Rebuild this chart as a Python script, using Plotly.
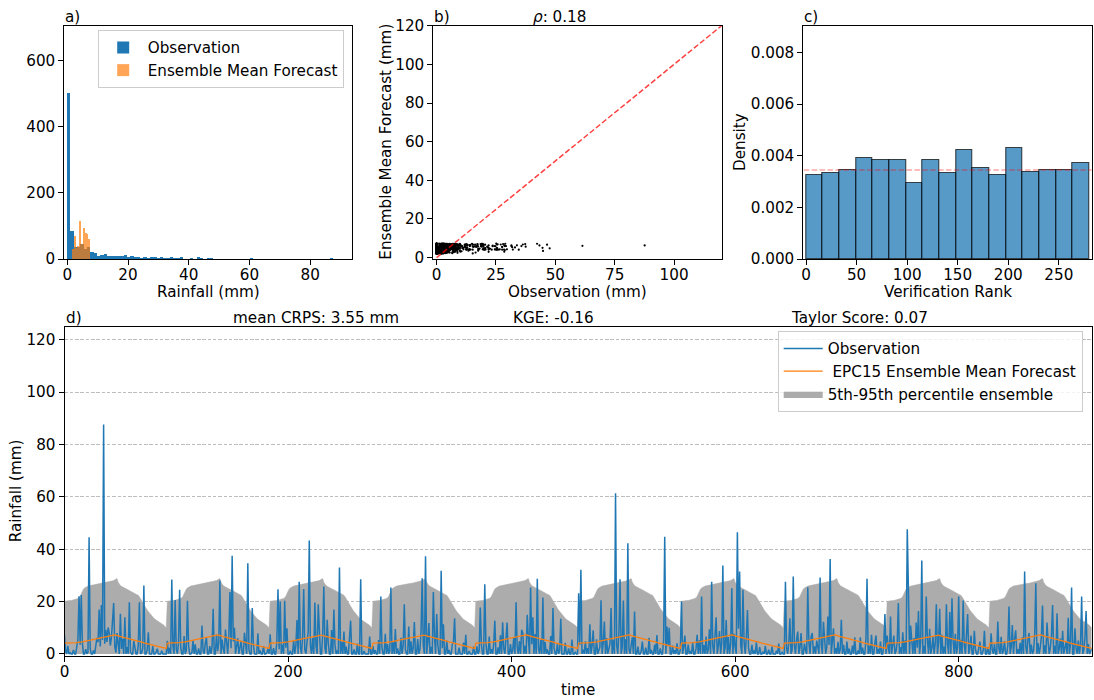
import numpy as np
import plotly.graph_objects as go

# ---------------- data ----------------
# Observed daily rainfall (mm), one list per 92-day season
obs_season_01 = [7, 1.2, 0, 3.1, 0, 0.4, 0, 0, 1.5, 0,
                 0, 2.4, 5.6, 22, 3.5, 22.5, 4.2, 0, 0, 1.8,
                 0, 0.6, 44.6, 2.1, 0, 0, 1.3, 0, 3.4, 6.1,
                 4.5, 17, 2.8, 18.7, 5.3, 87.6, 3.9, 9.2, 4.6, 10.1,
                 8, 3.2, 6.3, 12.4, 19.4, 2.7, 0.5, 8, 3.6, 0,
                 15.3, 1.9, 5.8, 0, 14, 0, 2.6, 0, 19.7, 0.8,
                 0, 0, 5, 1.4, 0, 0, 3.3, 19.7, 0, 0.3,
                 2.2, 26.1, 0, 0, 1.6, 8.3, 0, 0, 0, 3,
                 0, 0, 0.7, 2, 0, 0, 0, 1.2, 0, 0,
                 0, 0]
obs_season_02 = [5, 0, 2.3, 0, 28.4, 3.1, 0, 20.6, 1.7, 0,
                 4.4, 24.5, 2.5, 0, 0, 6.8, 0, 1.4, 20.3, 3.2,
                 0, 0, 0.5, 5.1, 0, 3.7, 0, 0, 2.1, 0,
                 0, 10.8, 1.2, 0, 4.3, 6.2, 0, 0, 3, 0,
                 2.6, 17.2, 0, 0, 7.4, 1.1, 4.2, 28, 0, 5.5,
                 2, 0, 9.3, 3.6, 0, 6.7, 23.6, 2.2, 37.5, 4.8,
                 10, 0, 3.4, 6, 0, 1.9, 5, 0, 0, 8.1,
                 2.5, 0, 34.6, 1.6, 0, 0, 17.5, 3.3, 0, 0,
                 0, 7.9, 0, 1.3, 0, 0, 3, 0, 0, 0.4,
                 2, 0]
obs_season_03 = [7.5, 0, 0, 2.2, 0, 0, 4.9, 24.7, 1.8, 20,
                 0, 3.6, 0, 20.3, 2.4, 9.8, 0, 0, 1.2, 0,
                 0, 5.2, 0, 3.1, 12.9, 0, 27.6, 2.7, 0, 6.4,
                 24.8, 1.5, 0, 4.7, 8.2, 43.3, 3.3, 0, 6.1, 0,
                 19.6, 2.9, 0, 19, 5.4, 0, 0, 7.8, 25.7, 2.3,
                 0, 13, 4.1, 0, 0, 9.1, 0, 17, 3.5, 0,
                 1.3, 0, 33, 0, 4.6, 0, 8.5, 0, 2.8, 0,
                 0, 5.9, 12.7, 0, 0, 1.7, 0, 0, 3.9, 0,
                 0, 28.5, 0, 0, 1.1, 0, 0, 0, 0, 6.6,
                 0, 0]
obs_season_04 = [3, 0, 1.4, 0, 0, 5.3, 0, 21.9, 2.6, 0,
                 0, 7.7, 0, 3.8, 0, 1.2, 25.4, 0, 4.4, 0,
                 9.5, 0, 2.1, 0, 0, 6.2, 0, 3.3, 19, 1.6,
                 0, 0, 10.5, 0, 4.8, 0, 2.4, 12.2, 0, 0,
                 5.7, 0, 1.9, 8.6, 28.9, 3.1, 0, 37.3, 0, 4.2,
                 11.8, 0, 2.7, 0, 23.6, 6.9, 0, 15.2, 3.5, 0,
                 0, 31.8, 2.2, 11.3, 0, 0, 5.1, 0, 1.5, 0,
                 0, 3.7, 4.7, 13.6, 0, 0, 0, 2.4, 0, 0,
                 0, 4.3, 0, 7.3, 0, 0, 1.1, 0, 0, 0,
                 2.8, 0]
obs_season_05 = [0, 2.9, 0, 1.3, 17.7, 3.4, 0, 0, 26.6, 4.1,
                 0, 0, 6.6, 0, 1.8, 0, 3.9, 12.7, 0, 0,
                 2.5, 0, 7.1, 0, 12.1, 2, 0, 5.3, 12, 0,
                 0, 3.8, 0, 1.4, 6.4, 0, 19.7, 2.6, 0, 4.9,
                 0, 9.2, 8, 0, 3.1, 0, 14.9, 5.8, 0, 25.4,
                 3.7, 14, 0, 7.6, 0, 28.7, 2.2, 0, 5.4, 0,
                 21.5, 0, 4.5, 0, 1.7, 0, 0, 6.8, 0, 17.5,
                 2.3, 0, 0, 3.9, 0, 1.2, 13.4, 0, 0, 0,
                 4.2, 0, 0, 2.1, 0, 0, 5.5, 0, 0, 0.6,
                 0, 0]
obs_season_06 = [23.2, 3.5, 32.1, 0, 1.6, 0, 4.8, 0, 2.2, 0,
                 11.3, 0, 3.1, 9, 0, 0, 5.6, 0, 1.3, 2.6,
                 20.5, 0, 4.3, 12.4, 0, 6.1, 0, 1.8, 3.7, 17.5,
                 0, 5.2, 0, 61.4, 3.3, 0, 7.9, 28.5, 0, 2.5,
                 20.4, 0, 5.6, 0, 42.3, 1.9, 0, 3.4, 6.3, 0,
                 16.2, 0, 0, 2.8, 0, 0, 1.2, 4.7, 0, 0,
                 2.4, 0, 0, 6.2, 0, 1.5, 0, 0, 3.6, 0,
                 7.2, 0, 0, 2.1, 0, 0, 5.3, 44.8, 0, 10.5,
                 2.9, 10, 0, 0, 3.2, 0, 1.4, 0, 4, 0,
                 0, 1.7]
obs_season_07 = [20, 0, 2.4, 7, 0, 0, 3.6, 0, 1.1, 0,
                 4.5, 0, 0, 2, 7.3, 0, 5.2, 0, 21.9, 0,
                 3.4, 0, 6.6, 0, 1.7, 9.4, 0, 27.6, 2.9, 0,
                 5.5, 14, 0, 3.2, 8.7, 0, 4.1, 33.8, 0, 2.3,
                 12.9, 0, 6.4, 0, 3.8, 25.1, 0, 7.7, 2.5, 0,
                 46.5, 9.6, 31.5, 3.3, 0, 24.5, 4.7, 0, 6.2, 16.8,
                 2.1, 0, 0, 3.5, 0, 1.3, 0, 4.4, 0, 0,
                 2.6, 0, 0, 0.8, 0, 3.1, 0, 0, 1.6, 0,
                 0, 2.8, 0, 0, 0, 1.2, 0, 3.9, 0, 0,
                 0.6, 0]
obs_season_08 = [0, 27.6, 2.2, 0, 4.1, 13.6, 0, 1.5, 29.6, 3.2,
                 0, 5.8, 8.5, 0, 2.6, 8, 0, 0, 3.9, 1.4,
                 0, 25.5, 4.3, 0, 6.7, 8, 0, 2.9, 0, 5.1,
                 1.8, 0, 29.2, 3.6, 0, 12.3, 6, 0, 2.7, 14.3,
                 3.4, 36.3, 0, 5.3, 9.8, 0, 2.2, 0, 4.6, 0,
                 1.6, 13, 0, 3.5, 0, 0, 4.7, 0, 2, 0,
                 0, 3.2, 0, 6.3, 0, 0, 1.3, 0, 6.3, 0,
                 2.4, 0, 0, 5.5, 28.7, 0, 3.1, 0, 7.3, 0,
                 0, 4, 7, 0, 1.9, 0, 4.7, 0, 0, 3.6,
                 15.2, 0]
obs_season_09 = [7, 2.1, 0, 14.3, 0, 3.5, 7, 0, 1.2, 4.4,
                 19.4, 0, 2.6, 0, 8.3, 0, 5.2, 0, 47.6, 25.3,
                 0, 10.8, 3.3, 0, 6.1, 0, 12, 2.4, 16.4, 0,
                 4.8, 35.7, 0, 3.1, 0, 21.9, 5.7, 0, 9.6, 0,
                 2.2, 6.5, 0, 3.9, 19, 0, 4.4, 17.2, 0, 7.3,
                 0, 2.8, 0, 19, 3.6, 0, 16, 0, 21.3, 4.9,
                 0, 7.7, 0, 2.5, 21.9, 0, 5.4, 0, 20.4, 3.1,
                 0, 6.8, 15.2, 0, 2.3, 7, 0, 0, 8.8, 1.7,
                 0, 0, 3.2, 4.7, 0, 0, 1.4, 8.8, 0, 0,
                 2.6, 0]
obs_season_10 = [0, 7.9, 1.6, 0, 3.8, 0, 0, 12.4, 2.1, 0,
                 6.5, 0, 1.3, 4.9, 0, 0, 3.4, 18.1, 0, 2.7,
                 11, 0, 5.6, 9, 0, 1.8, 0, 4.2, 0, 6.3,
                 0, 31.5, 2.9, 0, 5.7, 8, 0, 3.6, 0, 1.2,
                 7.4, 27, 0, 4.1, 0, 2.5, 6.8, 18.5, 0, 3.3,
                 0, 12, 4.6, 0, 2.4, 7.2, 18.7, 0, 3.1, 0,
                 15.5, 0, 2.2, 5.9, 0, 8.8, 0, 1.7, 4.5, 0,
                 13.8, 0, 3.6, 25.4, 0, 0, 9.8, 2.3, 0, 5.1,
                 0, 3.4, 21.9, 0, 1.5, 6.6, 16.4, 0, 3.8, 0,
                 0.9, 2]

# EPC15 ensemble statistics by day of season (mm); the generator uses the
# same seasonal parameters every year
ens_mean_season = [4.1, 4.1, 4.2, 4.2, 4.2, 4.1, 4.2, 4.2, 4.3, 4.2,
                   4.3, 4.3, 4.4, 4.4, 4.5, 4.6, 4.6, 4.7, 4.8, 4.9,
                   5.0, 5.0, 5.1, 5.2, 5.3, 5.4, 5.5, 5.6, 5.7, 5.8,
                   5.9, 6.0, 6.0, 6.1, 6.2, 6.3, 6.3, 6.4, 6.5, 6.6,
                   6.7, 6.8, 6.9, 7.0, 7.2, 7.3, 7.2, 7.0, 6.9, 6.8,
                   6.7, 6.5, 6.4, 6.3, 6.2, 6.0, 5.9, 5.8, 5.7, 5.6,
                   5.5, 5.4, 5.3, 5.2, 5.1, 5.0, 4.9, 4.7, 4.6, 4.5,
                   4.4, 4.2, 4.1, 4.0, 3.9, 3.7, 3.6, 3.5, 3.4, 3.3,
                   3.2, 3.1, 3.0, 2.9, 2.8, 2.7, 2.6, 2.5, 2.4, 2.3,
                   2.2, 2.1]
ens_p95_season = [20.1, 20.2, 20.2, 20.3, 20.3, 20.4, 20.4, 20.5, 20.6, 20.7,
                  20.8, 21.0, 21.2, 21.5, 22.0, 23.0, 24.2, 24.8, 25.2, 25.5,
                  25.7, 25.9, 26.0, 26.1, 26.2, 26.3, 26.4, 26.5, 26.5, 26.6,
                  26.7, 26.7, 26.8, 26.9, 27.0, 27.0, 27.1, 27.2, 27.3, 27.4,
                  27.5, 27.6, 27.7, 27.8, 28.0, 28.3, 28.6, 28.8, 27.4, 26.6,
                  26.1, 25.8, 25.5, 25.3, 25.1, 24.9, 24.7, 24.5, 24.3, 24.1,
                  23.8, 23.5, 23.2, 23.0, 22.8, 22.6, 22.4, 21.8, 21.0, 20.2,
                  19.5, 18.8, 18.1, 17.4, 16.8, 16.2, 15.6, 15.0, 14.5, 14.0,
                  13.6, 13.2, 12.9, 12.6, 12.4, 12.2, 12.0, 11.7, 11.3, 10.9,
                  10.4, 10.0]

# Histogram of observations (80 bins over 0-87.6 mm)
obs_hist_range = (0.0, 87.6)
obs_hist_counts = [502, 85, 35, 35, 45, 30, 35, 22, 18, 10,
                   12, 15, 10, 10, 10, 10, 8, 12, 6, 9,
                   4, 4, 3, 7, 3, 6, 6, 2, 4, 1,
                   2, 4, 1, 2, 4, 0, 0, 1, 0, 4,
                   2, 0, 1, 1, 0, 0, 0, 0, 0, 0,
                   0, 0, 0, 0, 0, 1, 0, 0, 0, 0,
                   0, 0, 0, 0, 0, 0, 0, 0, 0, 0,
                   0, 0, 0, 0, 0, 0, 0, 0, 0, 1]
# Histogram of ensemble-mean forecasts (10 bins over 1.9-7.6 mm)
fcst_hist_range = (1.9, 7.6)
fcst_hist_counts = [29, 70, 32, 38, 116, 45, 95, 78, 75, 60]

# Verification rank histogram (17 bins over ranks 0-280)
rank_range = (0, 280)
rank_density = [0.00325, 0.00332, 0.00345, 0.00392, 0.00383, 0.00383, 0.00293,
                0.00383, 0.00332, 0.00422, 0.00351, 0.00325, 0.00431, 0.00338,
                0.00345, 0.00345, 0.00370]
uniform_density = 0.00345

# Scores
rho = 0.18
mean_crps = 3.55
kge = -0.16
taylor_score = 0.07
one_to_one = [0, 120]

# ---------------- derived series ----------------
obs_rain = np.concatenate([obs_season_01, obs_season_02, obs_season_03, obs_season_04,
                           obs_season_05, obs_season_06, obs_season_07, obs_season_08,
                           obs_season_09, obs_season_10]).astype(float)
n_seasons = 10
ens_mean = np.concatenate([ens_mean_season] * n_seasons)
ens_p95 = np.concatenate([ens_p95_season] * n_seasons)
days = np.arange(len(obs_rain))

obs_edges = np.linspace(*obs_hist_range, len(obs_hist_counts) + 1)
fcst_edges = np.linspace(*fcst_hist_range, len(fcst_hist_counts) + 1)
rank_edges = np.linspace(*rank_range, len(rank_density) + 1)


def centers(edges):
    return (edges[:-1] + edges[1:]) / 2


# ---------------- figure geometry (pixels) ----------------
W, H = 1094, 700
FONT = "DejaVu Sans"
FS = 15.2
BLUE, ORANGE = "#1f77b4", "#ff7f0e"


def fx(px):
    return px / W


def fy(py):
    return 1 - py / H


panels = {
    "a": dict(x0=64.3, x1=352.3, y0=26.0, y1=259.0),
    "b": dict(x0=433.3, x1=722.3, y0=25.7, y1=259.0),
    "c": dict(x0=803.3, x1=1091.7, y0=26.0, y1=259.0),
    "d": dict(x0=64.5, x1=1091.7, y0=326.7, y1=656.0),
}

fig = go.Figure()

# a) histograms
fig.add_trace(go.Bar(x=centers(obs_edges), y=obs_hist_counts, width=np.diff(obs_edges),
                     marker=dict(color=BLUE, line=dict(width=0)), name="Observation",
                     xaxis="x", yaxis="y", legend="legend2"))
fig.add_trace(go.Bar(x=centers(fcst_edges), y=fcst_hist_counts, width=np.diff(fcst_edges),
                     marker=dict(color=ORANGE, line=dict(width=0)), opacity=0.7,
                     name="Ensemble Mean Forecast", xaxis="x", yaxis="y", legend="legend2"))

# b) scatter of observation vs ensemble mean
fig.add_trace(go.Scatter(x=obs_rain, y=ens_mean, mode="markers",
                         marker=dict(color="black", size=2.2, line=dict(width=0)),
                         showlegend=False, xaxis="x2", yaxis="y2"))
fig.add_trace(go.Scatter(x=one_to_one, y=one_to_one, mode="lines",
                         line=dict(color="rgba(255,0,0,0.75)", width=1.5, dash="5.5px,2.4px"),
                         showlegend=False, xaxis="x2", yaxis="y2"))

# c) rank histogram
fig.add_trace(go.Bar(x=centers(rank_edges), y=rank_density, width=np.diff(rank_edges),
                     marker=dict(color="rgba(31,119,180,0.75)",
                                 line=dict(color="rgba(0,0,0,0.7)", width=1.1)),
                     showlegend=False, xaxis="x3", yaxis="y3"))
fig.add_trace(go.Scatter(x=[-10, 300], y=[uniform_density, uniform_density], mode="lines",
                         line=dict(color="rgba(255,0,0,0.35)", width=1.5, dash="5.5px,2.4px"),
                         showlegend=False, xaxis="x3", yaxis="y3"))

# d) time series
fig.add_trace(go.Scatter(x=days, y=ens_p95, mode="lines", fill="tozeroy",
                         fillcolor="#acacac", line=dict(color="#acacac", width=0.5),
                         name="5th-95th percentile ensemble", legendrank=3,
                         xaxis="x4", yaxis="y4"))
fig.add_trace(go.Scatter(x=days, y=obs_rain, mode="lines", line=dict(color=BLUE, width=1.5),
                         name="Observation", legendrank=1, xaxis="x4", yaxis="y4"))
fig.add_trace(go.Scatter(x=days, y=ens_mean, mode="lines", line=dict(color=ORANGE, width=1.2),
                         name="\u00a0EPC15 Ensemble Mean Forecast", legendrank=2,
                         xaxis="x4", yaxis="y4"))

axis_common = dict(showline=True, mirror=True, linecolor="black", linewidth=1,
                   ticks="outside", ticklen=5, tickwidth=1, tickcolor="black",
                   showgrid=False, zeroline=False, automargin=False,
                   tickfont=dict(family=FONT, size=FS, color="black"))
xaxis_common = dict(axis_common, ticklabelstandoff=-3)


def dom_x(p):
    return [fx(panels[p]["x0"]), fx(panels[p]["x1"])]


def dom_y(p):
    return [fy(panels[p]["y1"]), fy(panels[p]["y0"])]


legend_common = dict(xanchor="left", yanchor="top", bgcolor="rgba(255,255,255,0.8)",
                     bordercolor="#cccccc", borderwidth=1, font=dict(family=FONT, size=FS),
                     itemwidth=39, tracegroupgap=0)

fig.update_layout(
    width=W, height=H, margin=dict(l=0, r=0, t=0, b=0, autoexpand=False),
    paper_bgcolor="white", plot_bgcolor="white",
    font=dict(family=FONT, size=FS, color="black"),
    barmode="overlay", bargap=0,
    xaxis=dict(xaxis_common, domain=dom_x("a"), range=[-1.0, 93.9], dtick=20, anchor="y"),
    yaxis=dict(axis_common, domain=dom_y("a"), range=[0, 704], dtick=200, anchor="x"),
    xaxis2=dict(xaxis_common, domain=dom_x("b"), range=[-1.4, 120.3], dtick=25, anchor="y2"),
    yaxis2=dict(axis_common, domain=dom_y("b"), range=[-0.7, 120], dtick=20, anchor="x2"),
    xaxis3=dict(xaxis_common, domain=dom_x("c"), range=[-2.7, 282.5], dtick=50, anchor="y3"),
    yaxis3=dict(axis_common, domain=dom_y("c"), range=[0, 0.00902], dtick=0.002,
                tickformat=".3f", anchor="x3"),
    xaxis4=dict(xaxis_common, domain=dom_x("d"), range=[0, 919], dtick=200, anchor="y4"),
    yaxis4=dict(axis_common, domain=dom_y("d"), range=[-0.8, 125], dtick=20, anchor="x4",
                showgrid=True, gridcolor="#bdbdbd", gridwidth=0.8, griddash="3.5px,1.8px"),
    legend=dict(legend_common, x=fx(777.7), y=fy(331.0)),
    legend2=dict(legend_common, x=fx(97.7), y=fy(30.0)),
)


def label(text, px, py, xanchor="left", yanchor="bottom", angle=0):
    fig.add_annotation(text=text, x=fx(px), y=fy(py), xref="paper", yref="paper",
                       xanchor=xanchor, yanchor=yanchor, showarrow=False, textangle=angle,
                       font=dict(family=FONT, size=FS, color="black"), borderpad=0)


# panel tags and score texts
label("a)", 64.3, 27)
label("b)", 433.3, 27)
label(f"<i>\u03c1</i>: {rho:.2f}", 532.3, 27)
label("c)", 803.3, 27)
label("d)", 64.5, 328)
label(f"mean CRPS: {mean_crps:.2f} mm", 232.3, 328)
label(f"KGE: {kge:.2f}", 511.7, 328)
label(f"Taylor Score: {taylor_score:.2f}", 790, 328)

# axis titles
label("Rainfall (mm)", 208.3, 292, "center", "middle")
label("Observation (mm)", 577.8, 292, "center", "middle")
label("Ensemble Mean Forecast (mm)", 385.7, 142, "center", "middle", -90)
label("Verification Rank", 947.5, 292, "center", "middle")
label("Density", 740, 142, "center", "middle", -90)
label("time", 578, 690, "center", "middle")
label("Rainfall (mm)", 16.3, 491, "center", "middle", -90)

fig.write_html("out.html")
